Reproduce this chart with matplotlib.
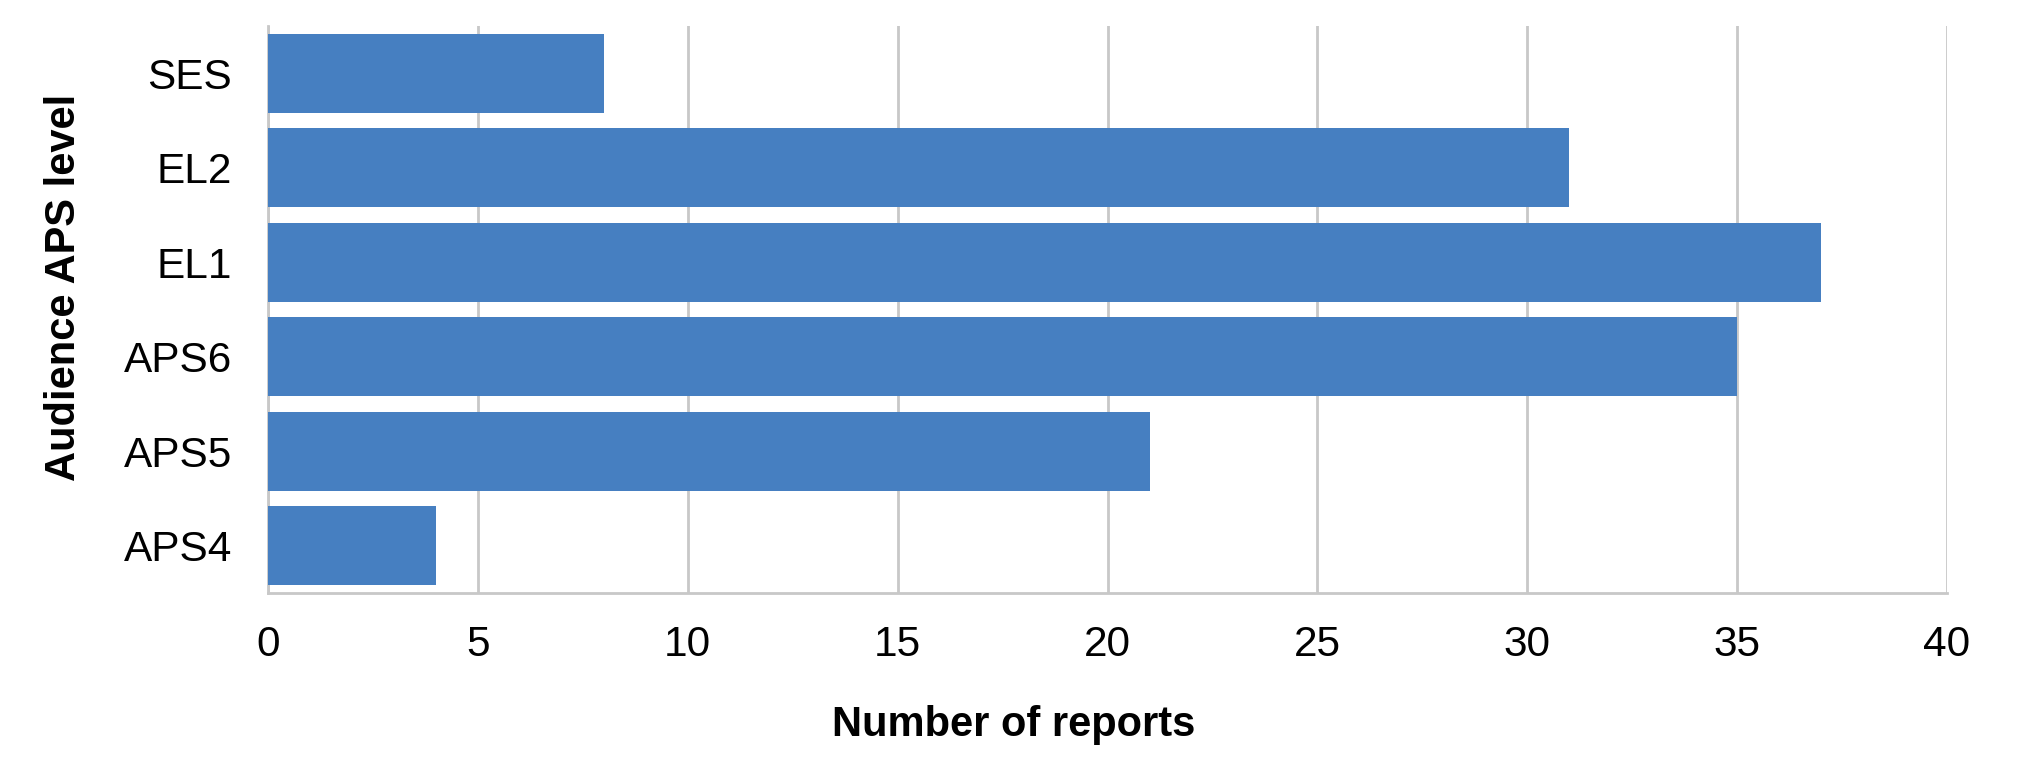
import matplotlib
matplotlib.use("Agg")
import matplotlib.pyplot as plt

# data
levels = ["APS4", "APS5", "APS6", "EL1", "EL2", "SES"]
reports = [4, 21, 35, 37, 31, 8]
xticks = [0, 5, 10, 15, 20, 25, 30, 35, 40]

plt.rcParams['font.family'] = ['Liberation Sans', 'DejaVu Sans']

fig = plt.figure(figsize=(20.17, 7.72), dpi=100)
ax = fig.add_axes([0.1329, 0.2319, 0.9653 - 0.1329, 0.9663 - 0.2319])

ax.barh(levels, reports, height=0.836, color='#467fc1', zorder=3)

ax.set_xlim(0, 40)
ax.set_ylim(-0.5, len(levels) - 0.5)
ax.set_xticks(xticks)
ax.grid(axis='x', color='#c8c8c8', linewidth=2, zorder=0)
ax.grid(axis='y', visible=False)

for s in ['top', 'right']:
    ax.spines[s].set_visible(False)
for s in ['left', 'bottom']:
    ax.spines[s].set_color('#c8c8c8')
    ax.spines[s].set_linewidth(2)

ax.tick_params(axis='x', length=0, pad=23, labelsize=30.5)
ax.tick_params(axis='y', length=0, pad=26, labelsize=30.5)

fig.text(1014 / 2017, 1 - 736 / 772, 'Number of reports', fontsize=30,
         fontweight='bold', ha='center', va='baseline')
fig.text(64 / 2017, 1 - 287 / 772, 'Audience APS level', fontsize=30,
         fontweight='bold', ha='center', va='center', rotation=90)

fig.savefig('out.png', dpi=100, facecolor='white')
